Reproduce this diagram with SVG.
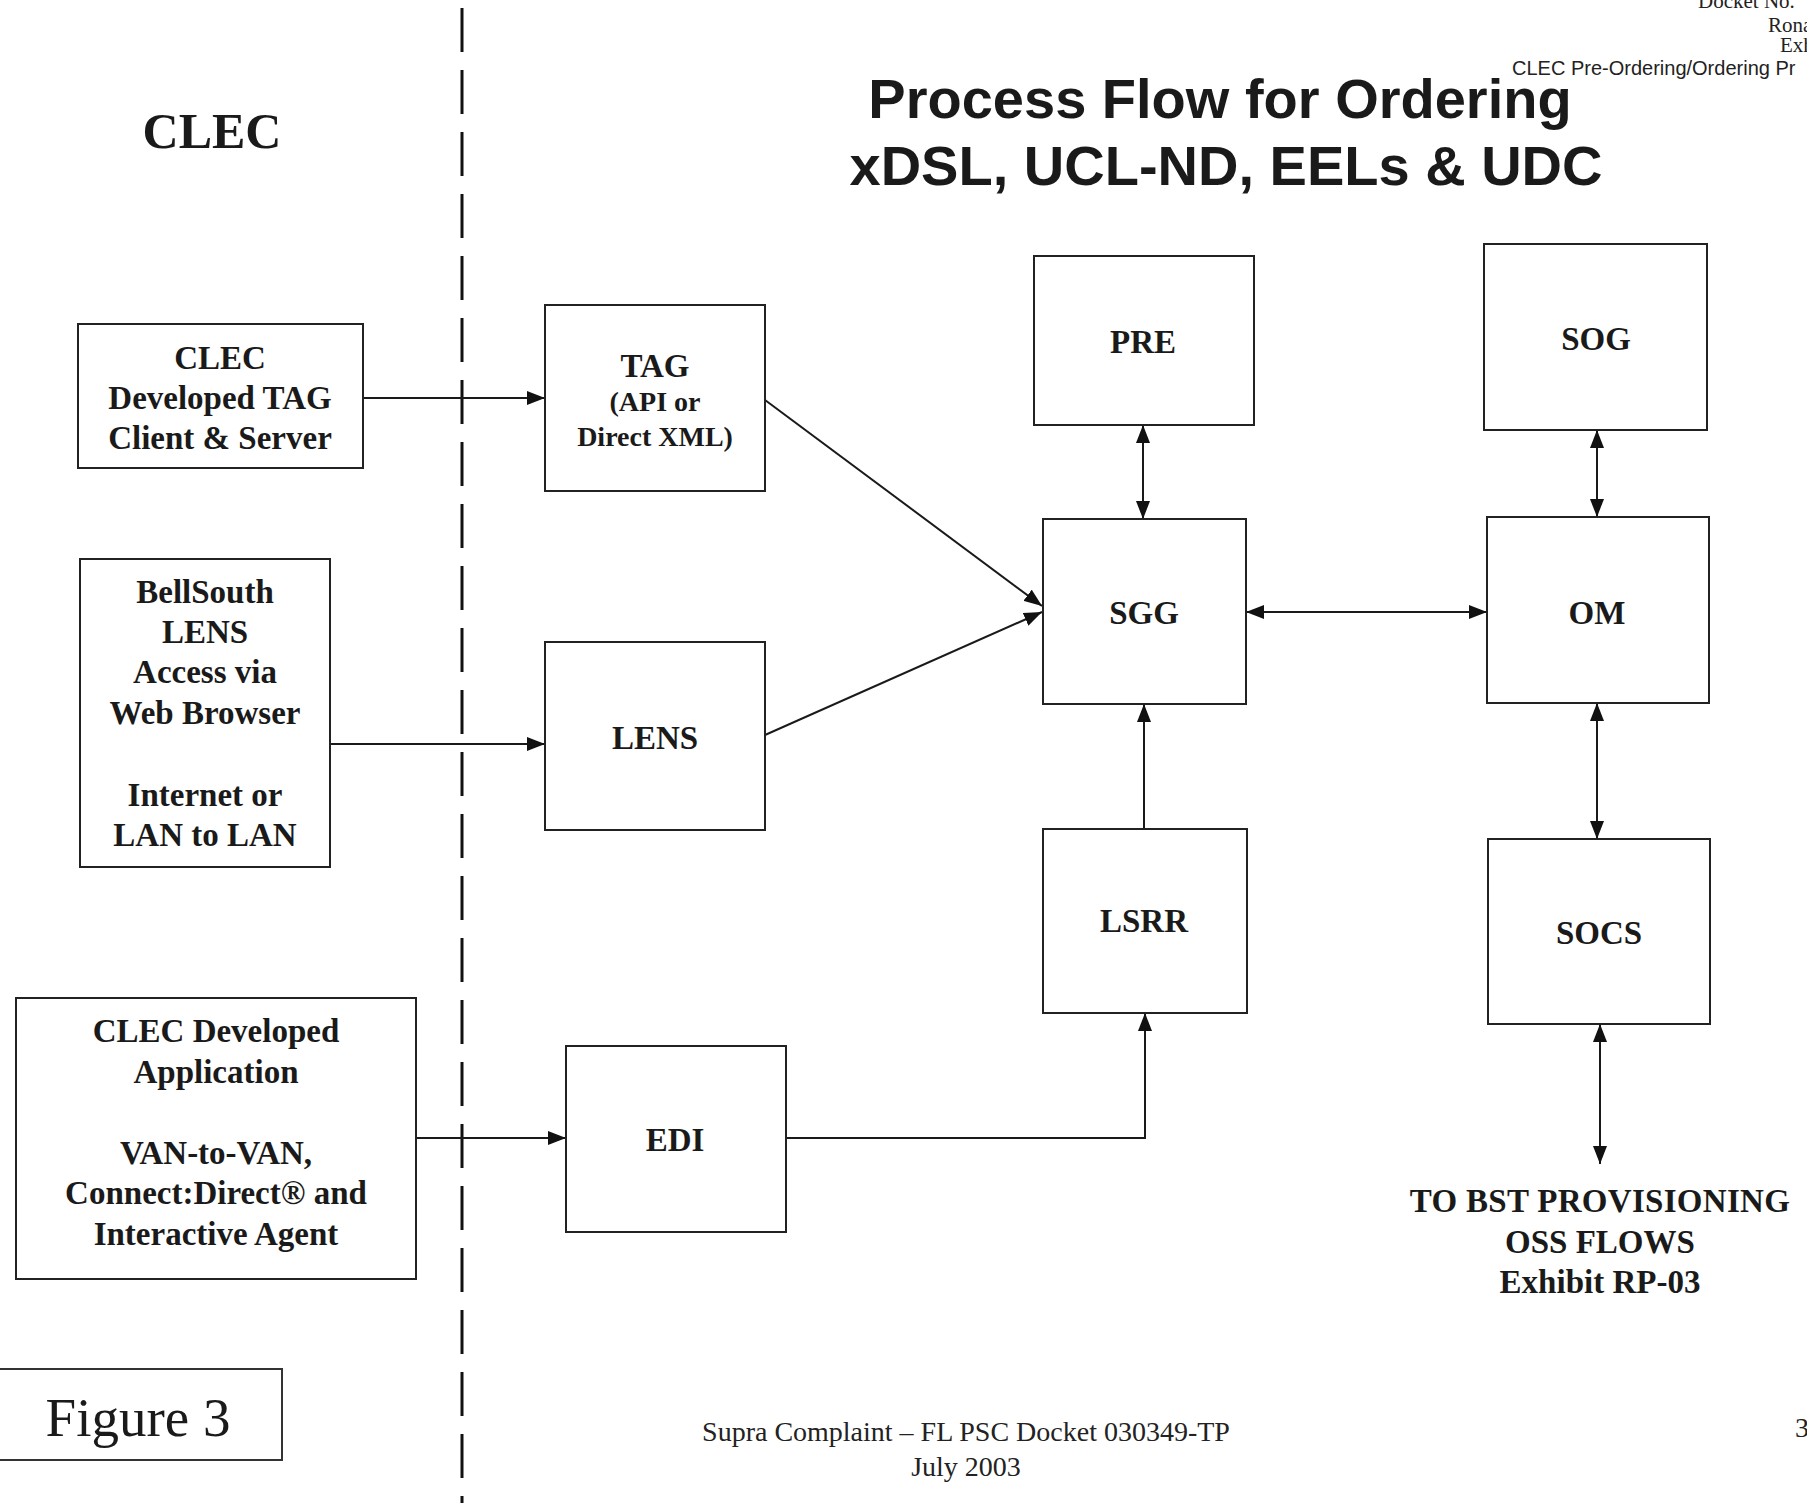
<svg xmlns="http://www.w3.org/2000/svg" width="1807" height="1503" viewBox="0 0 1807 1503">
<style>
.box{fill:#fff;stroke:#222;stroke-width:2}
.lbl{font-family:"Liberation Serif","Times New Roman",serif;font-weight:bold;font-size:33px;fill:#1a1a1a;text-anchor:middle}
.sm{font-size:28px}
.conn{stroke:#1a1a1a;stroke-width:2;fill:none}
.hdr{font-family:"Liberation Serif","Times New Roman",serif;font-size:21px;fill:#222}
.foot{font-family:"Liberation Serif","Times New Roman",serif;font-size:28px;fill:#222}
</style>
<defs>
<marker id="ah" viewBox="0 0 18 14" refX="18" refY="7" markerWidth="18" markerHeight="14" markerUnits="userSpaceOnUse" orient="auto-start-reverse">
<path d="M0,0 L18,7 L0,14 z" fill="#111"/>
</marker>
</defs>
<rect width="1807" height="1503" fill="#fff"/>

<g id="header">
<text class="hdr" x="1698" y="8">Docket No.</text>
<text class="hdr" x="1768" y="32">Rona</text>
<text class="hdr" x="1780" y="52">Exh</text>
<text x="1512" y="75" style="font-family:'Liberation Sans',Arial,sans-serif;font-size:20px;fill:#222">CLEC Pre-Ordering/Ordering Pr</text>
</g>

<g id="title">
<text x="1220" y="118" style="font-family:'Liberation Sans',Arial,sans-serif;font-weight:bold;font-size:56px;fill:#1a1a1a;text-anchor:middle">Process Flow for Ordering</text>
<text x="1226" y="185" style="font-family:'Liberation Sans',Arial,sans-serif;font-weight:bold;font-size:56px;fill:#1a1a1a;text-anchor:middle">xDSL, UCL-ND, EELs &amp; UDC</text>
</g>

<g id="clec-label">
<text x="212" y="148" style="font-family:'Liberation Serif','Times New Roman',serif;font-weight:bold;font-size:50px;fill:#1a1a1a;text-anchor:middle">CLEC</text>
</g>

<g id="divider">
<line x1="462" y1="8" x2="462" y2="1503" stroke="#111" stroke-width="3" stroke-dasharray="44 18"/>
</g>

<g id="connectors">
<path class="conn" d="M363,398 H545" marker-end="url(#ah)"/>
<path class="conn" d="M330,744 H545" marker-end="url(#ah)"/>
<path class="conn" d="M416,1138 H566" marker-end="url(#ah)"/>
<path class="conn" d="M765,400 L1042,606" marker-end="url(#ah)"/>
<path class="conn" d="M765,735 L1042,612" marker-end="url(#ah)"/>
<path class="conn" d="M1143,425 V519" marker-start="url(#ah)" marker-end="url(#ah)"/>
<path class="conn" d="M1246,612 H1487" marker-start="url(#ah)" marker-end="url(#ah)"/>
<path class="conn" d="M1597,430 V517" marker-start="url(#ah)" marker-end="url(#ah)"/>
<path class="conn" d="M1144,829 V704" marker-end="url(#ah)"/>
<path class="conn" d="M786,1138 H1145 V1013" marker-end="url(#ah)"/>
<path class="conn" d="M1597,703 V839" marker-start="url(#ah)" marker-end="url(#ah)"/>
<path class="conn" d="M1600,1024 V1164" marker-start="url(#ah)" marker-end="url(#ah)"/>
</g>

<g id="clec-tag">
<rect class="box" x="78" y="324" width="285" height="144"/>
<text class="lbl" x="220" y="369">CLEC</text>
<text class="lbl" x="220" y="409">Developed TAG</text>
<text class="lbl" x="220" y="449">Client &amp; Server</text>
</g>

<g id="bellsouth-lens">
<rect class="box" x="80" y="559" width="250" height="308"/>
<text class="lbl" x="205" y="603">BellSouth</text>
<text class="lbl" x="205" y="643">LENS</text>
<text class="lbl" x="205" y="683">Access via</text>
<text class="lbl" x="205" y="724">Web Browser</text>
<text class="lbl" x="205" y="806">Internet or</text>
<text class="lbl" x="205" y="846">LAN to LAN</text>
</g>

<g id="clec-app">
<rect class="box" x="16" y="998" width="400" height="281"/>
<text class="lbl" x="216" y="1042">CLEC Developed</text>
<text class="lbl" x="216" y="1083">Application</text>
<text class="lbl" x="216" y="1164">VAN-to-VAN,</text>
<text class="lbl" x="216" y="1204">Connect:Direct® and</text>
<text class="lbl" x="216" y="1245">Interactive Agent</text>
</g>

<g id="tag">
<rect class="box" x="545" y="305" width="220" height="186"/>
<text class="lbl" x="655" y="377">TAG</text>
<text class="lbl sm" x="655" y="411">(API or</text>
<text class="lbl sm" x="655" y="446">Direct XML)</text>
</g>

<g id="lens">
<rect class="box" x="545" y="642" width="220" height="188"/>
<text class="lbl" x="655" y="749">LENS</text>
</g>

<g id="edi">
<rect class="box" x="566" y="1046" width="220" height="186"/>
<text class="lbl" x="675" y="1151">EDI</text>
</g>

<g id="pre">
<rect class="box" x="1034" y="256" width="220" height="169"/>
<text class="lbl" x="1143" y="353">PRE</text>
</g>

<g id="sgg">
<rect class="box" x="1043" y="519" width="203" height="185"/>
<text class="lbl" x="1144" y="624">SGG</text>
</g>

<g id="lsrr">
<rect class="box" x="1043" y="829" width="204" height="184"/>
<text class="lbl" x="1144" y="932">LSRR</text>
</g>

<g id="sog">
<rect class="box" x="1484" y="244" width="223" height="186"/>
<text class="lbl" x="1596" y="350">SOG</text>
</g>

<g id="om">
<rect class="box" x="1487" y="517" width="222" height="186"/>
<text class="lbl" x="1597" y="624">OM</text>
</g>

<g id="socs">
<rect class="box" x="1488" y="839" width="222" height="185"/>
<text class="lbl" x="1599" y="944">SOCS</text>
</g>

<g id="to-bst">
<text class="lbl" x="1600" y="1212" style="letter-spacing:0.3px">TO BST PROVISIONING</text>
<text class="lbl" x="1600" y="1253">OSS FLOWS</text>
<text class="lbl" x="1600" y="1293">Exhibit RP-03</text>
</g>

<g id="figure-label">
<path d="M0,1369 H282 V1460 H0" fill="none" stroke="#333" stroke-width="2"/>
<text x="138" y="1436" style="font-family:'Liberation Serif','Times New Roman',serif;font-size:55px;fill:#1a1a1a;text-anchor:middle">Figure 3</text>
</g>

<g id="footer">
<text class="foot" x="966" y="1441" text-anchor="middle">Supra Complaint – FL PSC Docket 030349-TP</text>
<text class="foot" x="966" y="1476" text-anchor="middle">July 2003</text>
<text class="foot" x="1795" y="1437">3</text>
</g>
</svg>
